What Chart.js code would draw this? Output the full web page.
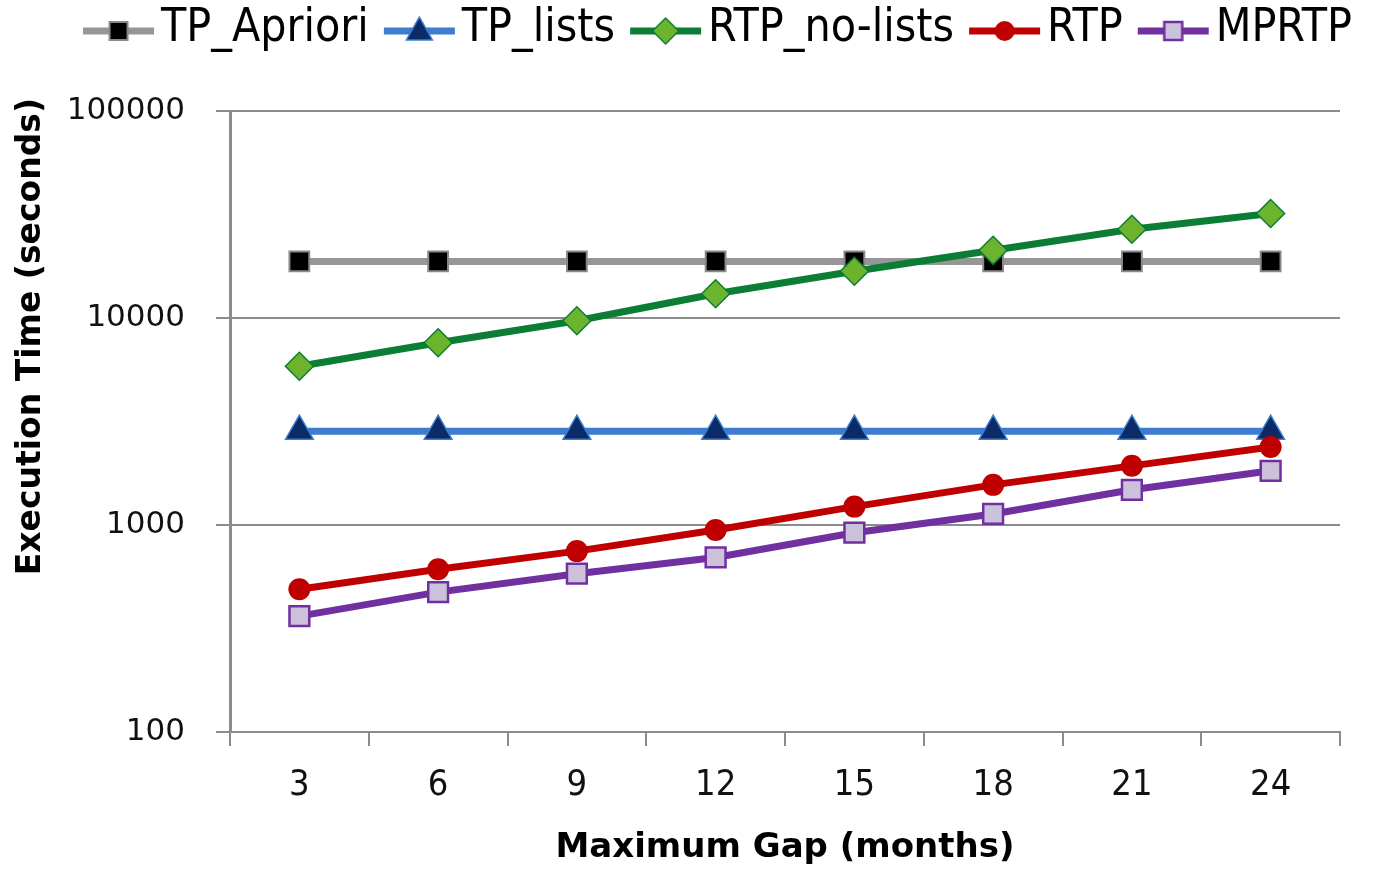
<!DOCTYPE html>
<html><head><meta charset="utf-8">
<script src="https://cdn.jsdelivr.net/npm/chart.js@4/dist/chart.umd.min.js"></script>
<style>html,body{margin:0;padding:0;background:#fff;overflow:hidden}#wrap{width:1373px;height:873px;position:relative}</style>
</head><body><div id="wrap"><canvas id="c"></canvas></div>
<script>
// ---- data ----
const categories = ['3', '6', '9', '12', '15', '18', '21', '24'];
const seriesNames = ['TP_Apriori', 'TP_lists', 'RTP_no-lists', 'RTP', 'MPRTP'];
const tpApriori = [18760, 18760, 18760, 18760, 18760, 18760, 18760, 18760];
const tpLists = [2840, 2840, 2840, 2840, 2840, 2840, 2840, 2840];
const rtpNoLists = [5850, 7590, 9700, 13090, 16830, 21230, 26840, 31990];
const rtp = [489, 611, 748, 946, 1227, 1563, 1931, 2381];
const mprtp = [363, 474, 582, 697, 918, 1131, 1479, 1827];
const yTickValues = [100, 1000, 10000, 100000];
const xTitle = 'Maximum Gap (months)';
const yTitle = 'Execution Time (seconds)';

// ---- styles ----
const NARROW = '"Liberation Sans Narrow", "DejaVu Sans Condensed", "Roboto Condensed", "Liberation Sans", sans-serif';
const styles = [
  {line:'#969696', fill:'#000000', stroke:'#8a8a8a', shape:'rect', r:14, bw:2, kind:'rect'},
  {line:'#3c7dd0', fill:'#0b2a66', stroke:'#3c7dd0', shape:'triangle', r:16, bw:1.5, kind:'triangle'},
  {line:'#0b7d34', fill:'#6cb42e', stroke:'#0b7d34', shape:'rectRot', r:14, bw:1.5, kind:'diamond'},
  {line:'#c00000', fill:'#c00000', stroke:'#c00000', shape:'circle', r:11, bw:0, kind:'circle'},
  {line:'#7030a0', fill:'#ccc1da', stroke:'#7030a0', shape:'rect', r:14, bw:2.5, kind:'rect'}
];
const seriesData = [tpApriori, tpLists, rtpNoLists, rtp, mprtp];

function makeIcon(s){
  const W = 140, H = 46;
  const c = document.createElement('canvas'); c.width = W; c.height = H;
  const g = c.getContext('2d');
  const x0 = 50, len = 71, cy = H/2 + 2, cx = x0 + len/2;
  g.strokeStyle = s.line; g.lineWidth = 7; g.lineCap = 'butt';
  g.beginPath(); g.moveTo(x0, cy); g.lineTo(x0 + len, cy); g.stroke();
  g.fillStyle = s.fill; g.strokeStyle = s.stroke; g.lineWidth = Math.max(s.bw, 1.5);
  g.beginPath();
  if (s.kind === 'rect') g.rect(cx - 9, cy - 9, 18, 18);
  else if (s.kind === 'triangle') { g.moveTo(cx, cy - 14); g.lineTo(cx + 13, cy + 9); g.lineTo(cx - 13, cy + 9); g.closePath(); }
  else if (s.kind === 'diamond') { g.moveTo(cx, cy - 13); g.lineTo(cx + 13, cy); g.lineTo(cx, cy + 13); g.lineTo(cx - 13, cy); g.closePath(); }
  else g.arc(cx, cy, 10, 0, Math.PI * 2);
  g.fill(); if (s.bw > 0) g.stroke();
  return c;
}
const icons = styles.map(makeIcon);

const datasets = seriesNames.map((name, i) => ({
  label: name,
  data: seriesData[i],
  borderColor: styles[i].line,
  backgroundColor: styles[i].fill,
  borderWidth: 7,
  tension: 0,
  pointStyle: styles[i].shape,
  pointRadius: styles[i].r,
  pointHoverRadius: styles[i].r,
  pointBackgroundColor: styles[i].fill,
  pointBorderColor: styles[i].stroke,
  pointBorderWidth: styles[i].bw,
  order: seriesNames.length - i
}));

const yTitlePlugin = {
  id: 'yTitle',
  afterDraw(chart) {
    const ctx = chart.ctx;
    ctx.save();
    ctx.translate(31, 98);
    ctx.rotate(-Math.PI / 2);
    ctx.font = 'bold 33px "DejaVu Sans"';
    ctx.fillStyle = '#000';
    ctx.textAlign = 'right';
    ctx.textBaseline = 'middle';
    ctx.fillText(yTitle, 0, 0);
    ctx.restore();
  }
};
const legendHeightPlugin = {
  id: 'legendHeight',
  beforeInit(chart) {
    const f = chart.legend.fit;
    chart.legend.fit = function () { f.call(this); this.height = 105; };
  }
};

new Chart(document.getElementById('c'), {
  type: 'line',
  data: { labels: categories, datasets },
  options: {
    responsive: true,
    maintainAspectRatio: false,
    animation: false,
    layout: { padding: { top: 6, right: 21, left: 0, bottom: 0 } },
    plugins: {
      tooltip: { enabled: false },
      legend: {
        position: 'top',
        align: 'end',
        labels: {
          usePointStyle: true,
          pointStyleWidth: 70,
          boxHeight: 46,
          padding: 0,
          color: '#000',
          font: { family: NARROW, size: 46 },
          sort: (a, b) => a.datasetIndex - b.datasetIndex,
          generateLabels(chart) {
            const items = Chart.defaults.plugins.legend.labels.generateLabels(chart);
            items.forEach((it) => { it.pointStyle = icons[it.datasetIndex]; });
            return items;
          }
        }
      }
    },
    scales: {
      x: {
        type: 'category',
        offset: true,
        afterFit(s) { s.height = 141; s.paddingRight = 33; },
        grid: { offset: true, drawOnChartArea: false, drawTicks: true, tickLength: 14, color: '#8c8c8c', lineWidth: 2 },
        border: { color: '#8c8c8c', width: 2 },
        ticks: { color: '#111', font: { family: NARROW, size: 36 }, padding: 18, maxRotation: 0 },
        title: { display: true, text: xTitle, color: '#000', font: { family: '"DejaVu Sans"', size: 34, weight: 'bold' }, padding: { top: 0, bottom: 4 } }
      },
      y: {
        type: 'logarithmic',
        min: 100,
        max: 100000,
        afterFit(s) { s.width = 230; },
        afterBuildTicks(s) { s.ticks = yTickValues.map(v => ({ value: v })); },
        grid: { drawTicks: true, tickLength: 14, color: '#8c8c8c', lineWidth: 2 },
        border: { color: '#8c8c8c', width: 3 },
        ticks: { color: '#111', font: { family: '"DejaVu Sans"', size: 31 }, padding: 31, callback: v => String(v) }
      }
    }
  },
  plugins: [yTitlePlugin, legendHeightPlugin]
});
</script></body></html>
